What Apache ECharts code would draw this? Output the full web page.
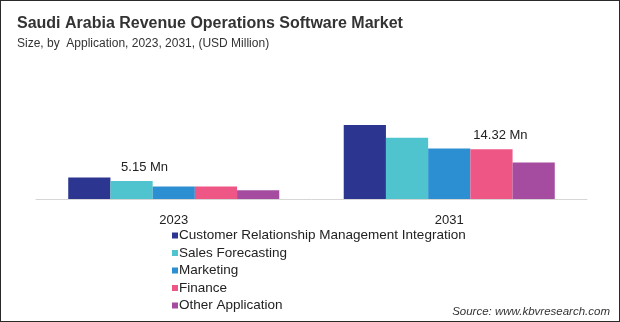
<!DOCTYPE html>
<html>
<head>
<meta charset="utf-8">
<script src="https://cdn.jsdelivr.net/npm/echarts@6/dist/echarts.min.js"></script>
<style>
html,body{margin:0;padding:0;background:#fff;}
#wrap{position:relative;width:620px;height:322px;box-sizing:border-box;border:1px solid #2a2a2a;overflow:hidden;}
#chart{position:absolute;left:-1px;top:-1px;width:620px;height:322px;}
</style>
</head>
<body>
<div id="wrap"><div id="chart"></div></div>
<script>
const categories = ['2023', '2031'];
const seriesNames = ['Customer Relationship Management Integration', 'Sales Forecasting', 'Marketing', 'Finance', 'Other Application'];
const crmValues = [6.2, 21.3];
const salesForecastingValues = [5.15, 17.6];
const marketingValues = [3.6, 14.5];
const financeValues = [3.6, 14.32];
const otherValues = [2.5, 10.5];
const colors = ['#2c3590', '#50c4ce', '#2b8fd1', '#ee5686', '#a54ca0'];

const font = '"Liberation Sans", Arial, sans-serif';
const allValues = [crmValues, salesForecastingValues, marketingValues, financeValues, otherValues];

function labelledData(values, idx, offset) {
  return values.map((v, i) => {
    if (i === idx) {
      return {
        value: v,
        label: {
          show: true, position: 'top', distance: 7, offset: offset,
          formatter: p => p.value + ' Mn',
          fontSize: 13, color: '#222', fontFamily: font
        }
      };
    }
    return v;
  });
}

const series = seriesNames.map((name, k) => {
  let data = allValues[k];
  if (k === 1) data = labelledData(data, 0, [13, 0]);
  if (k === 3) data = labelledData(data, 1, [9, 0]);
  return {
    name: name, type: 'bar', data: data,
    barGap: '0%', barCategoryGap: '23.4%',
    itemStyle: { color: colors[k] },
    emphasis: { disabled: true }
  };
});

const chart = echarts.init(document.getElementById('chart'), null, { renderer: 'canvas' });
chart.setOption({
  animation: false,
  backgroundColor: '#fff',
  title: [
    { text: 'Saudi Arabia Revenue Operations Software Market', left: 12, top: 11,
      textStyle: { fontSize: 16, fontWeight: 'bold', color: '#333', fontFamily: font } },
    { text: 'Size, by  Application, 2023, 2031, (USD Million)', left: 12, top: 33,
      textStyle: { fontSize: 12, fontWeight: 'normal', color: '#333', fontFamily: font } },
    { text: 'Source: www.kbvresearch.com', right: 5, top: 301,
      textStyle: { fontSize: 11.5, fontWeight: 'normal', fontStyle: 'italic', color: '#333', fontFamily: font } }
  ],
  legend: {
    orient: 'vertical', left: 172, top: 228.5, padding: 0,
    icon: 'rect', itemWidth: 6, itemHeight: 6, itemGap: 3.5,
    textStyle: { fontSize: 13.5, color: '#222', fontFamily: font, lineHeight: 14, padding: [0, 0, 0, -4] },
    data: seriesNames
  },
  grid: { left: 36, right: 33, top: 112, bottom: 123, containLabel: false },
  xAxis: {
    type: 'category', data: categories,
    axisLine: { lineStyle: { color: '#d6d6d6', width: 1 } },
    axisTick: { show: false },
    axisLabel: { fontSize: 13, color: '#222', fontFamily: font, margin: 15 }
  },
  yAxis: {
    type: 'value', min: 0, max: 25, show: false,
    splitLine: { show: false }
  },
  series: series
});
</script>
</body>
</html>
